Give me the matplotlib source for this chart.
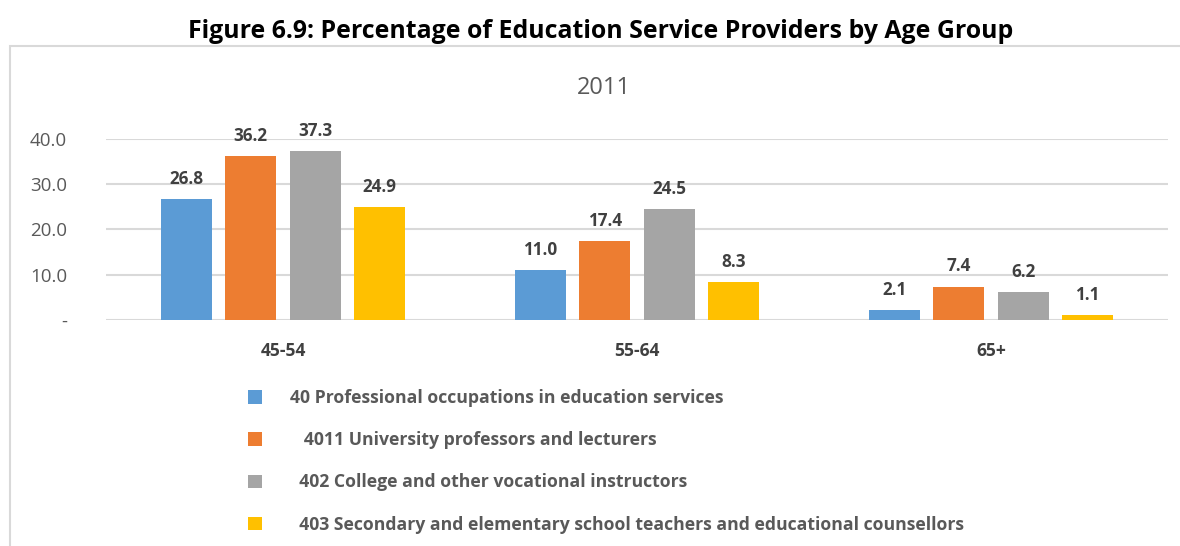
import matplotlib
matplotlib.use("Agg")
import matplotlib.pyplot as plt
from matplotlib.patches import Rectangle, Patch
import numpy as np

plt.rcParams['font.family'] = ['Open Sans', 'DejaVu Sans']

age_groups = ["45-54", "55-64", "65+"]
series_names = [
    "40 Professional occupations in education services",
    "   4011 University professors and lecturers",
    "  402 College and other vocational instructors",
    "  403 Secondary and elementary school teachers and educational counsellors",
]
values = [
    [26.8, 11.0, 2.1],
    [36.2, 17.4, 7.4],
    [37.3, 24.5, 6.2],
    [24.9, 8.3, 1.1],
]
colors = ["#5B9BD5", "#ED7D31", "#A5A5A5", "#FFC000"]
y_ticks = [0, 10, 20, 30, 40]
y_tick_labels = ["-", "10.0", "20.0", "30.0", "40.0"]

W, H = 1180, 546
fig = plt.figure(figsize=(W / 100, H / 100), dpi=100)

# chart frame
fig.patches.append(Rectangle((10 / W, -0.1), 1.2, (H - 46) / H + 0.1,
                             transform=fig.transFigure, fill=False,
                             edgecolor="#D9D9D9", linewidth=1.5))

fig.text(601 / W, 1 - 31 / H, "Figure 6.9: Percentage of Education Service Providers by Age Group",
         ha="center", va="center", fontsize=17.9, fontweight="bold", color="black")
fig.text(604 / W, 1 - 88 / H, "2011", ha="center", va="center",
         fontsize=17, color="#595959")

ax = fig.add_axes([106 / W, (H - 320) / H, (1168 - 106) / W, (320 - 139) / H])
x = np.arange(len(age_groups))
pitch = 0.182
width = 0.144
for i, (vals, c) in enumerate(zip(values, colors)):
    pos = x + (i - 1.5) * pitch
    bars = ax.bar(pos, vals, width=width, color=c, zorder=3)
    for b, v in zip(bars, vals):
        ax.annotate(f"{v:.1f}", (b.get_x() + b.get_width() / 2, v),
                    xytext=(0, 8), textcoords="offset points",
                    ha="center", va="bottom", fontsize=12.3, fontweight="bold",
                    color="#404040", annotation_clip=False)

ax.set_xlim(-0.5, 2.5)
ax.set_ylim(0, 40)
ax.set_yticks(y_ticks)
ax.set_yticklabels(y_tick_labels, fontsize=13.5, color="#595959")
ax.set_xticks(x)
ax.set_xticklabels(age_groups, fontsize=12.6, fontweight="bold", color="#404040")
ax.tick_params(axis="both", length=0)
ax.tick_params(axis="y", pad=28)
ax.tick_params(axis="x", pad=16)
ax.grid(axis="y", color="#D9D9D9", linewidth=1.5, zorder=0)
for s in ax.spines.values():
    s.set_visible(False)

handles = [Patch(facecolor=c, edgecolor="none") for c in colors]
leg = fig.legend(handles, series_names, loc="upper left",
                 bbox_to_anchor=(241 / W, 1 - 382 / H), frameon=False,
                 prop={"size": 12.7, "weight": "bold"}, labelcolor="#595959",
                 handlelength=0.8, handleheight=0.8, handletextpad=1.6,
                 labelspacing=1.37, borderaxespad=0)

fig.savefig("out.png", dpi=100)
